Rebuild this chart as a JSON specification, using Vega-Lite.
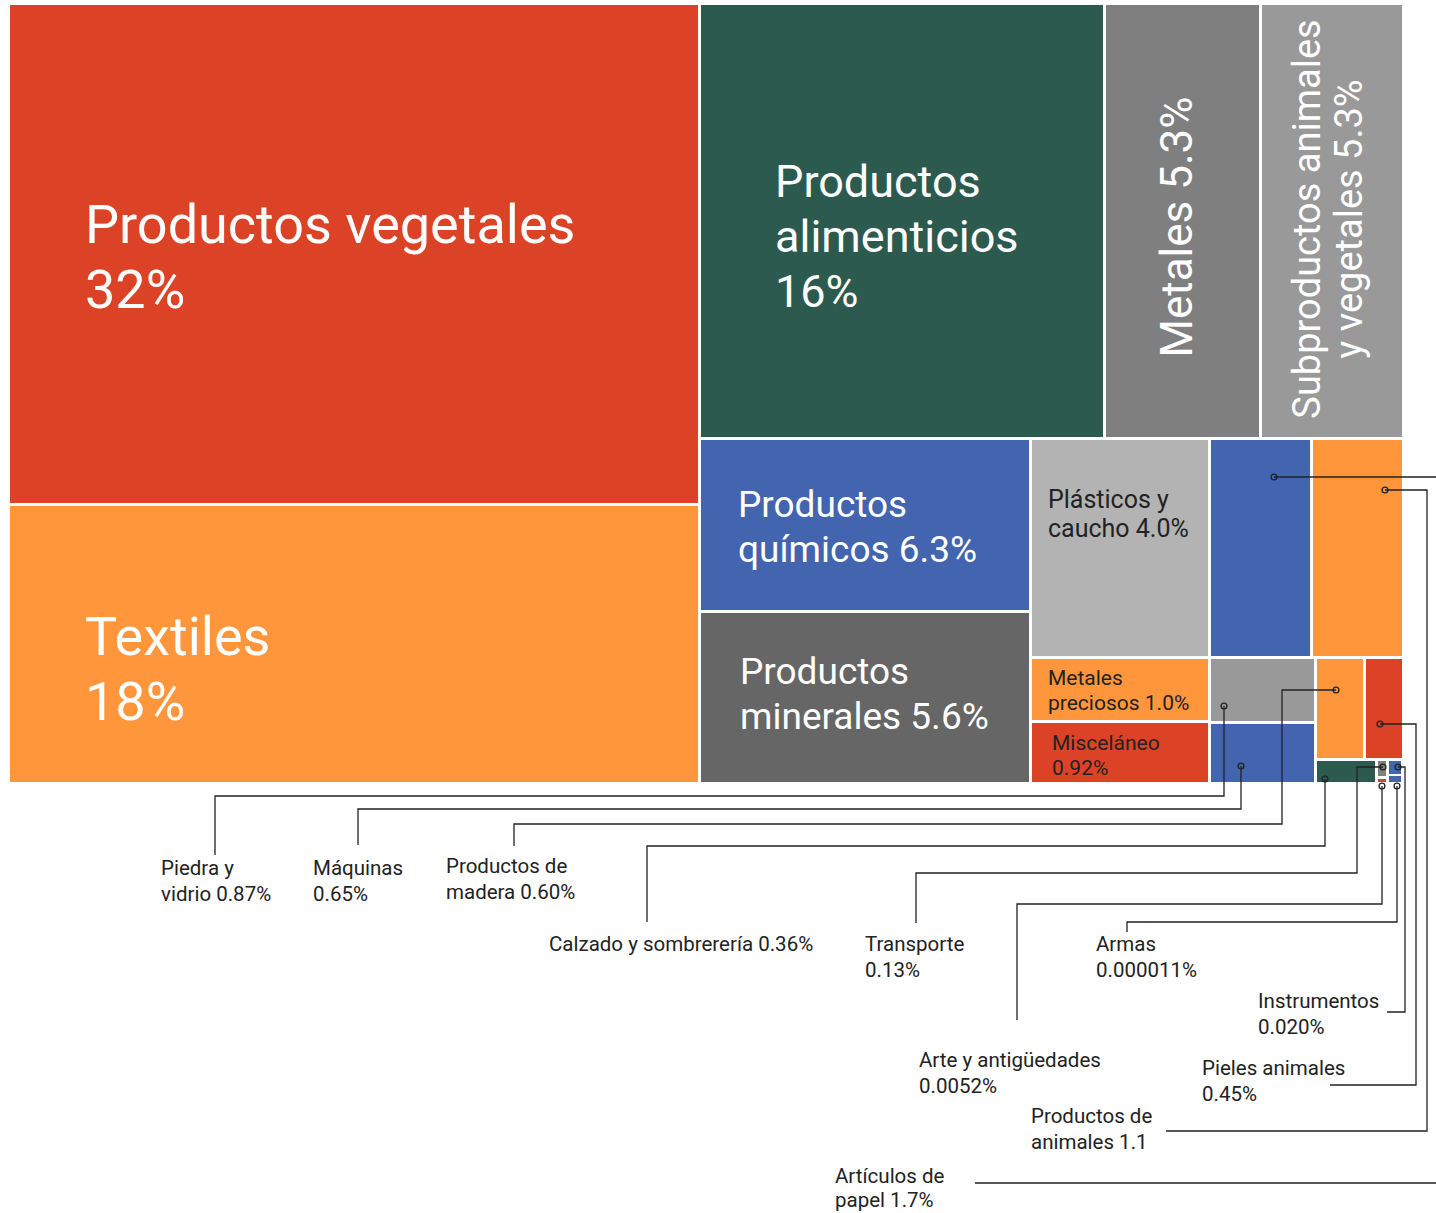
{
  "$schema": "https://vega.github.io/schema/vega-lite/v6.json",
  "width": 1436,
  "height": 1213,
  "autosize": "none",
  "padding": 0,
  "background": "white",
  "config": {"view": {"stroke": null}, "font": "Roboto"},
  "datasets": {
    "cells": [
      {"name": "Productos vegetales", "x0": 10, "x1": 698, "y0": 5, "y1": 503},
      {"name": "Textiles", "x0": 10, "x1": 698, "y0": 506, "y1": 782},
      {"name": "Productos alimenticios", "x0": 701, "x1": 1103, "y0": 5, "y1": 437},
      {"name": "Metales", "x0": 1106, "x1": 1259, "y0": 5, "y1": 437},
      {"name": "Subproductos animales y vegetales", "x0": 1262, "x1": 1402, "y0": 5, "y1": 437},
      {"name": "Productos químicos", "x0": 701, "x1": 1029, "y0": 440, "y1": 610},
      {"name": "Productos minerales", "x0": 701, "x1": 1029, "y0": 613, "y1": 782},
      {"name": "Plásticos y caucho", "x0": 1032, "x1": 1208, "y0": 440, "y1": 656},
      {"name": "Artículos de papel", "x0": 1211, "x1": 1310, "y0": 440, "y1": 656},
      {"name": "Productos de animales", "x0": 1313, "x1": 1402, "y0": 440, "y1": 656},
      {"name": "Metales preciosos", "x0": 1032, "x1": 1208, "y0": 659, "y1": 720},
      {"name": "Misceláneo", "x0": 1032, "x1": 1208, "y0": 723, "y1": 782},
      {"name": "Piedra y vidrio", "x0": 1211, "x1": 1314, "y0": 659, "y1": 721},
      {"name": "Máquinas", "x0": 1211, "x1": 1314, "y0": 724, "y1": 782},
      {"name": "Productos de madera", "x0": 1317, "x1": 1363, "y0": 659, "y1": 758},
      {"name": "Pieles animales", "x0": 1366, "x1": 1402, "y0": 659, "y1": 758},
      {"name": "Calzado y sombrerería", "x0": 1317, "x1": 1375, "y0": 761, "y1": 782},
      {"name": "Transporte", "x0": 1378, "x1": 1386, "y0": 761, "y1": 776},
      {"name": "Arte y antigüedades", "x0": 1378, "x1": 1386, "y0": 779, "y1": 782},
      {"name": "Instrumentos", "x0": 1389, "x1": 1401, "y0": 761, "y1": 774},
      {"name": "Armas", "x0": 1389, "x1": 1401, "y0": 776, "y1": 782}
    ],
    "labels": [
      {"style": "A", "text": "Productos vegetales\n32%", "x": 85, "y": 243},
      {"style": "A", "text": "Textiles\n18%", "x": 85, "y": 655},
      {"style": "B", "text": "Productos\nalimenticios\n16%", "x": 775, "y": 197},
      {"style": "C", "text": "Productos\nquímicos 6.3%", "x": 738, "y": 517},
      {"style": "C", "text": "Productos\nminerales 5.6%", "x": 740, "y": 684},
      {"style": "D", "text": "Metales 5.3%", "x": 1192, "y": 227},
      {"style": "E", "text": "Subproductos animales\ny vegetales 5.3%", "x": 1320, "y": 219},
      {"style": "F", "text": "Plásticos y\ncaucho 4.0%", "x": 1048, "y": 508},
      {"style": "G", "text": "Metales\npreciosos 1.0%", "x": 1048, "y": 685},
      {"style": "G", "text": "Misceláneo\n0.92%", "x": 1052, "y": 750},
      {"style": "H", "text": "Piedra y\nvidrio 0.87%", "x": 161, "y": 875},
      {"style": "H", "text": "Máquinas\n0.65%", "x": 313, "y": 875},
      {"style": "H", "text": "Productos de\nmadera 0.60%", "x": 446, "y": 873},
      {"style": "H", "text": "Calzado y sombrerería 0.36%", "x": 549, "y": 951},
      {"style": "H", "text": "Transporte\n0.13%", "x": 865, "y": 951},
      {"style": "H", "text": "Armas\n0.000011%", "x": 1096, "y": 951},
      {"style": "H", "text": "Instrumentos\n0.020%", "x": 1258, "y": 1008},
      {"style": "H", "text": "Arte y antigüedades\n0.0052%", "x": 919, "y": 1067},
      {"style": "H", "text": "Pieles animales\n0.45%", "x": 1202, "y": 1075},
      {"style": "H", "text": "Productos de\nanimales 1.1", "x": 1031, "y": 1123},
      {"style": "I", "text": "Artículos de\npapel 1.7%", "x": 835, "y": 1183}
    ],
    "leaders": [
      {"name": "Artículos de papel", "seq": 1, "x": 1274, "y": 477},
      {"name": "Artículos de papel", "seq": 2, "x": 1442, "y": 477},
      {"name": "Artículos de papel", "seq": 3, "x": 1442, "y": 1183},
      {"name": "Artículos de papel", "seq": 4, "x": 975, "y": 1183},
      {"name": "Productos de animales", "seq": 1, "x": 1385, "y": 490},
      {"name": "Productos de animales", "seq": 2, "x": 1427, "y": 490},
      {"name": "Productos de animales", "seq": 3, "x": 1427, "y": 1131},
      {"name": "Productos de animales", "seq": 4, "x": 1166, "y": 1131},
      {"name": "Piedra y vidrio", "seq": 1, "x": 1224, "y": 706},
      {"name": "Piedra y vidrio", "seq": 2, "x": 1224, "y": 796},
      {"name": "Piedra y vidrio", "seq": 3, "x": 215, "y": 796},
      {"name": "Piedra y vidrio", "seq": 4, "x": 215, "y": 855},
      {"name": "Máquinas", "seq": 1, "x": 1241, "y": 766},
      {"name": "Máquinas", "seq": 2, "x": 1241, "y": 809},
      {"name": "Máquinas", "seq": 3, "x": 358, "y": 809},
      {"name": "Máquinas", "seq": 4, "x": 358, "y": 845},
      {"name": "Productos de madera", "seq": 1, "x": 1336, "y": 690},
      {"name": "Productos de madera", "seq": 2, "x": 1282, "y": 690},
      {"name": "Productos de madera", "seq": 3, "x": 1282, "y": 824},
      {"name": "Productos de madera", "seq": 4, "x": 514, "y": 824},
      {"name": "Productos de madera", "seq": 5, "x": 514, "y": 846},
      {"name": "Pieles animales", "seq": 1, "x": 1380, "y": 724},
      {"name": "Pieles animales", "seq": 2, "x": 1416, "y": 724},
      {"name": "Pieles animales", "seq": 3, "x": 1416, "y": 1085},
      {"name": "Pieles animales", "seq": 4, "x": 1330, "y": 1085},
      {"name": "Calzado y sombrerería", "seq": 1, "x": 1325, "y": 779},
      {"name": "Calzado y sombrerería", "seq": 2, "x": 1325, "y": 846},
      {"name": "Calzado y sombrerería", "seq": 3, "x": 647, "y": 846},
      {"name": "Calzado y sombrerería", "seq": 4, "x": 647, "y": 922},
      {"name": "Transporte", "seq": 1, "x": 1383, "y": 767},
      {"name": "Transporte", "seq": 2, "x": 1357, "y": 767},
      {"name": "Transporte", "seq": 3, "x": 1357, "y": 873},
      {"name": "Transporte", "seq": 4, "x": 916, "y": 873},
      {"name": "Transporte", "seq": 5, "x": 916, "y": 923},
      {"name": "Arte y antigüedades", "seq": 1, "x": 1382, "y": 786},
      {"name": "Arte y antigüedades", "seq": 2, "x": 1382, "y": 904},
      {"name": "Arte y antigüedades", "seq": 3, "x": 1017, "y": 904},
      {"name": "Arte y antigüedades", "seq": 4, "x": 1017, "y": 1020},
      {"name": "Armas", "seq": 1, "x": 1397, "y": 786},
      {"name": "Armas", "seq": 2, "x": 1397, "y": 922},
      {"name": "Armas", "seq": 3, "x": 1127, "y": 922},
      {"name": "Armas", "seq": 4, "x": 1127, "y": 932},
      {"name": "Instrumentos", "seq": 1, "x": 1398, "y": 767},
      {"name": "Instrumentos", "seq": 2, "x": 1405, "y": 767},
      {"name": "Instrumentos", "seq": 3, "x": 1405, "y": 1012},
      {"name": "Instrumentos", "seq": 4, "x": 1387, "y": 1012}
    ],
    "dots": [
      {"name": "Artículos de papel", "x": 1274, "y": 477},
      {"name": "Productos de animales", "x": 1385, "y": 490},
      {"name": "Piedra y vidrio", "x": 1224, "y": 706},
      {"name": "Máquinas", "x": 1241, "y": 766},
      {"name": "Productos de madera", "x": 1336, "y": 690},
      {"name": "Pieles animales", "x": 1380, "y": 724},
      {"name": "Calzado y sombrerería", "x": 1325, "y": 779},
      {"name": "Transporte", "x": 1383, "y": 767},
      {"name": "Arte y antigüedades", "x": 1382, "y": 786},
      {"name": "Armas", "x": 1397, "y": 786},
      {"name": "Instrumentos", "x": 1398, "y": 767}
    ]
  },
  "layer": [
    {
      "data": {"name": "cells"},
      "mark": {"type": "rect"},
      "encoding": {
        "x": {"field": "x0", "type": "quantitative", "scale": {"domain": [0, 1436], "nice": false, "zero": false}, "axis": null},
        "x2": {"field": "x1"},
        "y": {"field": "y0", "type": "quantitative", "scale": {"domain": [0, 1213], "nice": false, "zero": false, "reverse": true}, "axis": null},
        "y2": {"field": "y1"},
        "color": {
          "field": "name", "type": "nominal", "legend": null,
          "scale": {
            "domain": ["Productos vegetales", "Textiles", "Productos alimenticios", "Metales", "Subproductos animales y vegetales", "Productos químicos", "Productos minerales", "Plásticos y caucho", "Artículos de papel", "Productos de animales", "Metales preciosos", "Misceláneo", "Piedra y vidrio", "Máquinas", "Productos de madera", "Pieles animales", "Calzado y sombrerería", "Transporte", "Arte y antigüedades", "Instrumentos", "Armas"],
            "range": ["#DC4326", "#FF963C", "#2C5A4F", "#7F7F7F", "#999999", "#4364AE", "#666666", "#B3B3B3", "#4364AE", "#FF963C", "#FF963C", "#DC4326", "#999999", "#4364AE", "#FF963C", "#DC4326", "#2C5A4F", "#808080", "#DC4326", "#4364AE", "#4364AE"]
          }
        }
      }
    },
    {
      "data": {"name": "leaders"},
      "mark": {"type": "line", "color": "#222222", "strokeWidth": 1.3, "clip": true, "interpolate": "linear"},
      "encoding": {
        "x": {"field": "x", "type": "quantitative"},
        "y": {"field": "y", "type": "quantitative"},
        "detail": {"field": "name"},
        "order": {"field": "seq", "type": "quantitative"}
      }
    },
    {
      "data": {"name": "dots"},
      "mark": {"type": "point", "shape": "circle", "filled": false, "size": 34, "stroke": "#222222", "strokeWidth": 1.3, "opacity": 1},
      "encoding": {
        "x": {"field": "x", "type": "quantitative"},
        "y": {"field": "y", "type": "quantitative"}
      }
    },
    {
      "data": {"name": "labels"},
      "transform": [{"filter": "datum.style === 'A'"}],
      "mark": {"type": "text", "align": "left", "baseline": "alphabetic", "fontSize": 54, "lineHeight": 65, "color": "white", "lineBreak": "\n"},
      "encoding": {"x": {"field": "x", "type": "quantitative"}, "y": {"field": "y", "type": "quantitative"}, "text": {"field": "text"}}
    },
    {
      "data": {"name": "labels"},
      "transform": [{"filter": "datum.style === 'B'"}],
      "mark": {"type": "text", "align": "left", "baseline": "alphabetic", "fontSize": 45, "lineHeight": 55, "color": "white", "lineBreak": "\n"},
      "encoding": {"x": {"field": "x", "type": "quantitative"}, "y": {"field": "y", "type": "quantitative"}, "text": {"field": "text"}}
    },
    {
      "data": {"name": "labels"},
      "transform": [{"filter": "datum.style === 'C'"}],
      "mark": {"type": "text", "align": "left", "baseline": "alphabetic", "fontSize": 37, "lineHeight": 45, "color": "white", "lineBreak": "\n"},
      "encoding": {"x": {"field": "x", "type": "quantitative"}, "y": {"field": "y", "type": "quantitative"}, "text": {"field": "text"}}
    },
    {
      "data": {"name": "labels"},
      "transform": [{"filter": "datum.style === 'D'"}],
      "mark": {"type": "text", "align": "center", "baseline": "alphabetic", "angle": 270, "fontSize": 44, "color": "white", "lineBreak": "\n"},
      "encoding": {"x": {"field": "x", "type": "quantitative"}, "y": {"field": "y", "type": "quantitative"}, "text": {"field": "text"}}
    },
    {
      "data": {"name": "labels"},
      "transform": [{"filter": "datum.style === 'E'"}],
      "mark": {"type": "text", "align": "center", "baseline": "alphabetic", "angle": 270, "fontSize": 38, "lineHeight": 42, "color": "white", "lineBreak": "\n"},
      "encoding": {"x": {"field": "x", "type": "quantitative"}, "y": {"field": "y", "type": "quantitative"}, "text": {"field": "text"}}
    },
    {
      "data": {"name": "labels"},
      "transform": [{"filter": "datum.style === 'F'"}],
      "mark": {"type": "text", "align": "left", "baseline": "alphabetic", "fontSize": 25, "lineHeight": 29, "color": "#222222", "lineBreak": "\n"},
      "encoding": {"x": {"field": "x", "type": "quantitative"}, "y": {"field": "y", "type": "quantitative"}, "text": {"field": "text"}}
    },
    {
      "data": {"name": "labels"},
      "transform": [{"filter": "datum.style === 'G'"}],
      "mark": {"type": "text", "align": "left", "baseline": "alphabetic", "fontSize": 21, "lineHeight": 25, "color": "#222222", "lineBreak": "\n"},
      "encoding": {"x": {"field": "x", "type": "quantitative"}, "y": {"field": "y", "type": "quantitative"}, "text": {"field": "text"}}
    },
    {
      "data": {"name": "labels"},
      "transform": [{"filter": "datum.style === 'H'"}],
      "mark": {"type": "text", "align": "left", "baseline": "alphabetic", "fontSize": 20.5, "lineHeight": 26, "color": "#222222", "lineBreak": "\n"},
      "encoding": {"x": {"field": "x", "type": "quantitative"}, "y": {"field": "y", "type": "quantitative"}, "text": {"field": "text"}}
    },
    {
      "data": {"name": "labels"},
      "transform": [{"filter": "datum.style === 'I'"}],
      "mark": {"type": "text", "align": "left", "baseline": "alphabetic", "fontSize": 20.5, "lineHeight": 24, "color": "#222222", "lineBreak": "\n"},
      "encoding": {"x": {"field": "x", "type": "quantitative"}, "y": {"field": "y", "type": "quantitative"}, "text": {"field": "text"}}
    }
  ]
}
